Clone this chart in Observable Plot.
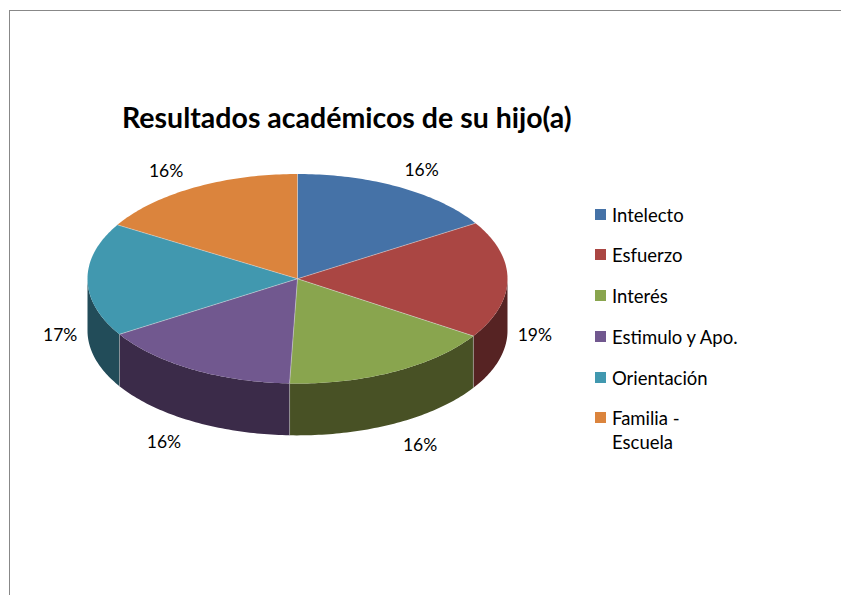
<!DOCTYPE html>
<html lang="es">
<head>
<meta charset="utf-8">
<script src="https://cdn.jsdelivr.net/npm/d3@7"></script>
<script src="https://cdn.jsdelivr.net/npm/@observablehq/plot@0.6"></script>
<style>
  html, body { margin: 0; background: #fff; }
  #page { position: relative; width: 841px; height: 595px; overflow: hidden; font-family: Lato, sans-serif; color: #000; }
  #frame { position: absolute; left: 9px; top: 10px; right: -5px; bottom: -5px; border: 1px solid #888; }
  #page svg { position: absolute; left: 0; top: 0; }
  #title { position: absolute; left: 122px; top: 98px; font-size: 28.5px; font-weight: 700; line-height: 38px; white-space: nowrap; }
  .item { position: absolute; left: 612px; width: 132px; font-size: 18.5px; line-height: 24px; }
  .swatch { position: absolute; left: 595px; width: 11px; height: 11px; }
</style>
</head>
<body>
<div id="page">
  <div id="frame"></div>
  <div id="title">Resultados académicos de su hijo(a)</div>
</div>
<script>
const categories = ["Intelecto", "Esfuerzo", "Interés", "Estimulo y Apo.", "Orientación", "Familia - Escuela"];
const shares = [16.1, 18.1, 16.4, 15.5, 17.5, 16.4];
const percentLabels = ["16%", "19%", "16%", "16%", "17%", "16%"];
const topColors = ["#4572a7", "#aa4643", "#89a54e", "#71588f", "#4198af", "#db843d"];
const wallColors = ["#2a4565", "#562323", "#485125", "#3b2b49", "#224c59", "#7a4a22"];

const depth = 52 / 105;
const total = d3.sum(shares);
const TAU = Math.PI * 2;
const px = t => Math.sin(t), py = t => -Math.cos(t);

let cum = 0;
const slices = categories.map((name, i) => {
  const t0 = cum / total * TAU;
  cum += shares[i];
  return {name, i, t0, t1: cum / total * TAU, label: percentLabels[i]};
});

function arc(a, b) {
  const n = Math.max(2, Math.ceil((b - a) / (Math.PI / 180)));
  return d3.range(n + 1).map(k => a + (b - a) * k / n);
}

const topPoints = slices.flatMap(s => [
  {slice: s.name, x: 0, y: 0},
  ...arc(s.t0, s.t1).map(t => ({slice: s.name, x: px(t), y: py(t)}))
]);

const wallPoints = slices.flatMap(s => {
  const a = Math.max(s.t0, Math.PI / 2), b = Math.min(s.t1, Math.PI * 1.5);
  if (b <= a) return [];
  const ts = arc(a, b);
  return [
    ...ts.map(t => ({slice: s.name, color: wallColors[s.i], x: px(t), y: py(t)})),
    ...ts.slice().reverse().map(t => ({slice: s.name, color: wallColors[s.i], x: px(t), y: py(t) + depth}))
  ];
});

const spokes = slices.map(s => ({x: px(s.t0), y: py(s.t0)}));
const wallEdges = spokes.filter(d => d.y > 0);

const labels = slices.map(s => {
  const m = (s.t0 + s.t1) / 2, sx = px(m), sy = py(m);
  const kx = sx > 0 && sy < -0.1 ? 1.22 : 1.27;
  const ky = sy < -0.1 ? 1.18 : 1.2;
  return {
    text: s.label,
    x: Math.sign(sx) * Math.min(Math.abs(sx) * kx, 1.13),
    y: sy * ky + (sy > -0.1 ? depth + 0.03 : 0)
  };
});

const chart = Plot.plot({
  width: 841, height: 595,
  marginTop: 0, marginRight: 0, marginBottom: 0, marginLeft: 0,
  style: {background: "transparent", fontFamily: "Lato, sans-serif"},
  x: {domain: [-1, 1], range: [87, 507], axis: null},
  y: {domain: [-1, 1], range: [173.5, 383], axis: null},
  color: {domain: categories, range: topColors},
  marks: [
    Plot.line(wallPoints, {x: "x", y: "y", z: "slice", fill: {value: "color", scale: null}, stroke: "none"}),
    Plot.link(wallEdges, {x1: "x", y1: "y", x2: "x", y2: d => d.y + depth, stroke: "#bbb", strokeOpacity: 0.6, strokeWidth: 0.8}),
    Plot.line(topPoints, {x: "x", y: "y", z: "slice", fill: "slice", stroke: "none"}),
    Plot.link(spokes, {x1: () => 0, y1: () => 0, x2: "x", y2: "y", stroke: "#ddd", strokeOpacity: 0.7, strokeWidth: 0.7}),
    Plot.text(labels, {x: "x", y: "y", text: "text", fontSize: 17.5, fill: "#000"})
  ]
});

const page = document.getElementById("page");
page.appendChild(chart);

const legendTops = [215, 255, 296, 337, 378, 418];
categories.forEach((name, i) => {
  const sw = document.createElement("div");
  sw.className = "swatch";
  sw.style.top = (legendTops[i] - 6) + "px";
  sw.style.background = topColors[i];
  page.appendChild(sw);
  const it = document.createElement("div");
  it.className = "item";
  it.style.top = (legendTops[i] - 12) + "px";
  it.textContent = i === 5 ? "" : name;
  if (i === 5) {
    it.style.width = "100px";
    it.textContent = name;
  }
  page.appendChild(it);
});
</script>
</body>
</html>
